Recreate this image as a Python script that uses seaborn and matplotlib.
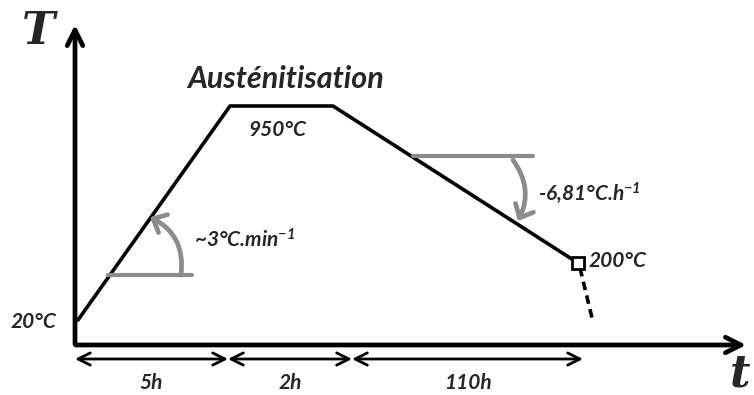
import matplotlib
matplotlib.use("Agg")
import matplotlib.pyplot as plt
import seaborn as sns
import pandas as pd

sns.set_style("white")
plt.rcParams["font.family"] = ["Lato", "DejaVu Sans"]
plt.rcParams["mathtext.fontset"] = "custom"
plt.rcParams["mathtext.bf"] = "Lato:bold:italic"
plt.rcParams["mathtext.default"] = "bf"

# schematic heat-treatment profile (drawing units, not to scale)
profile_x = [78, 230, 333, 578]
profile_y = [320, 106, 106, 263]
quench_x = [580, 593]
quench_y = [268, 322]

# stage durations and their bounds along the time axis
stage_labels = ["5h", "2h", "110h"]
stage_bounds = [75, 228, 352, 583]

temp_labels = ["20°C", "950°C", "200°C"]
rate_labels = ["~3°C.min$^{-1}$", "-6,81°C.h$^{-1}$"]

df = pd.DataFrame({"x": profile_x, "y": profile_y})

fig = plt.figure(figsize=(7.54, 3.95), dpi=100)
ax = fig.add_axes([0, 0, 1, 1])

# profile
sns.lineplot(data=df, x="x", y="y", sort=False, color="black", lw=2.6, ax=ax)
sns.lineplot(x=quench_x, y=quench_y, color="black", lw=2.6, ax=ax, linestyle=(0, (2.4, 1.5)))
ax.plot(profile_x[-1], profile_y[-1], marker="s", ms=8, mfc="white", mec="black", mew=2)
ax.set_xlim(0, 754)
ax.set_ylim(395, 0)
ax.axis("off")

# axes with open arrow heads
ax.annotate("", xy=(75, 22), xytext=(75, 347),
            arrowprops=dict(arrowstyle="->", lw=3.4, color="black", mutation_scale=28))
ax.annotate("", xy=(749, 345), xytext=(73, 345),
            arrowprops=dict(arrowstyle="->", lw=3.4, color="black", mutation_scale=28))
ax.text(38, 31, "T", fontsize=32, fontweight="bold", fontstyle="italic",
        family="DejaVu Serif", ha="center", va="center")
ax.text(740, 374, "t", fontsize=32, fontweight="bold", fontstyle="italic",
        family="DejaVu Serif", ha="center", va="center")

# slope indicators
grey = "#8c8c8c"
ax.plot([108, 192], [275, 275], color=grey, lw=3)
ax.annotate("", xy=(150, 217), xytext=(181, 275),
            arrowprops=dict(arrowstyle="->,head_length=0.5,head_width=0.45", lw=3.4, color=grey,
                            connectionstyle="arc3,rad=0.35", mutation_scale=16,
                            shrinkA=0, shrinkB=0))
ax.plot([413, 533], [156, 156], color=grey, lw=3)
ax.annotate("", xy=(518, 221), xytext=(513, 160),
            arrowprops=dict(arrowstyle="->,head_length=0.5,head_width=0.45", lw=3.4, color=grey,
                            connectionstyle="arc3,rad=-0.3", mutation_scale=16,
                            shrinkA=0, shrinkB=0))

# durations
for i, lab in enumerate(stage_labels):
    x0, x1 = stage_bounds[i], stage_bounds[i + 1]
    ax.annotate("", xy=(x1, 359), xytext=(x0, 359),
                arrowprops=dict(arrowstyle="<->", lw=2, color="black", mutation_scale=22,
                                shrinkA=0, shrinkB=0))
    ax.text((x0 + x1) / 2, 383, lab, fontsize=15, fontweight="bold", fontstyle="italic",
            ha="center", va="center")

# labels
bold_it = dict(fontweight="bold", fontstyle="italic")
ax.text(286, 79, "Austénitisation", fontsize=22, ha="center", va="center", **bold_it)
ax.text(277, 130, temp_labels[1], fontsize=15, ha="center", va="center", **bold_it)
ax.text(34, 322, temp_labels[0], fontsize=15, ha="center", va="center", **bold_it)
ax.text(589, 261, temp_labels[2], fontsize=15, ha="left", va="center", **bold_it)
ax.text(194, 240, rate_labels[0], fontsize=15, ha="left", va="center", **bold_it)
ax.text(538, 193, rate_labels[1], fontsize=15, ha="left", va="center", **bold_it)

fig.savefig("out.png", dpi=100)
